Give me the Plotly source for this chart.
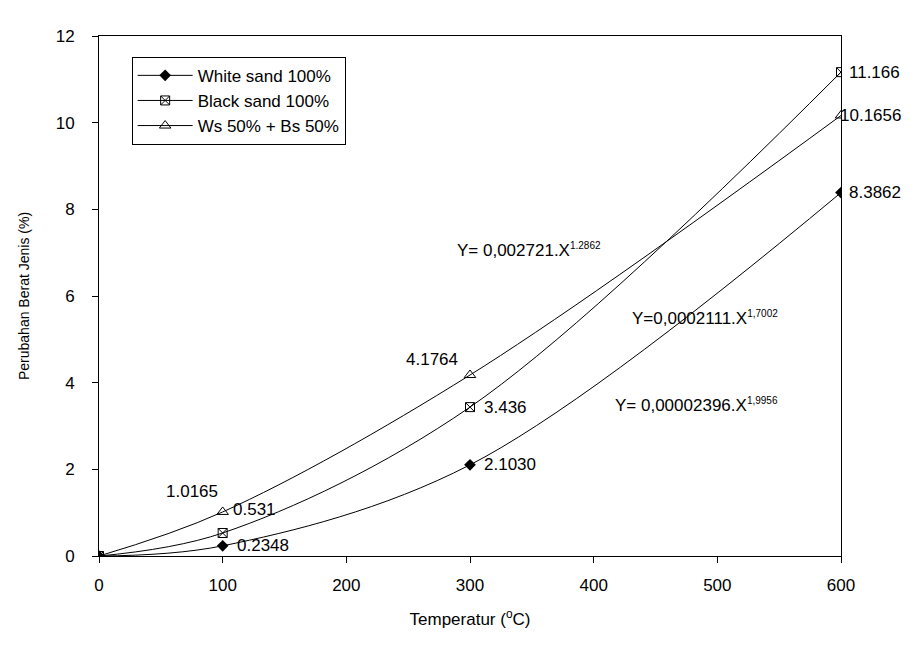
import plotly.graph_objects as go

temperature = [0, 100, 300, 600]
white_sand = [0, 0.2348, 2.1030, 8.3862]
black_sand = [0, 0.531, 3.436, 11.166]
mix_ws_bs = [0, 1.0165, 4.1764, 10.1656]

names = ["White sand 100%", "Black sand 100%", "Ws 50% + Bs 50%"]
x_ticks = [0, 100, 200, 300, 400, 500, 600]
y_ticks = [0, 2, 4, 6, 8, 10, 12]

FONT = "Liberation Sans, Arial, sans-serif"

fig = go.Figure()
fig.add_trace(go.Scatter(
    x=temperature, y=white_sand, name=names[0], mode="lines+markers",
    line=dict(color="black", width=1, shape="spline"),
    marker=dict(symbol="diamond", size=9, color="black")))
fig.add_trace(go.Scatter(
    x=temperature, y=black_sand, name=names[1], mode="lines+markers",
    line=dict(color="black", width=1, shape="spline"),
    marker=dict(symbol="square-x-open", size=9, color="black", line=dict(width=1))))
fig.add_trace(go.Scatter(
    x=temperature, y=mix_ws_bs, name=names[2], mode="lines+markers",
    line=dict(color="black", width=1, shape="spline"),
    marker=dict(symbol="triangle-up-open", size=10, color="black", line=dict(width=1))))

def sup(t):
    return "<sup><span style='font-size:10px'>" + t + "</span></sup>"

lab = dict(font=dict(family=FONT, size=17, color="black"), showarrow=False)
ann = [
    dict(x=600, y=black_sand[3], text="11.166", xanchor="left", xshift=6),
    dict(x=600, y=mix_ws_bs[3], text="10.1656", xanchor="left", xshift=-3),
    dict(x=600, y=white_sand[3], text="8.3862", xanchor="left", xshift=6),
    dict(x=300, y=mix_ws_bs[2], text="4.1764", xanchor="right", xshift=-10, yshift=16),
    dict(x=300, y=black_sand[2], text="3.436", xanchor="left", xshift=12),
    dict(x=300, y=white_sand[2], text="2.1030", xanchor="left", xshift=12),
    dict(x=100, y=mix_ws_bs[1], text="1.0165", xanchor="right", xshift=-3, yshift=20),
    dict(x=100, y=mix_ws_bs[1], text="0.531", xanchor="left", xshift=8, yshift=2),
    dict(x=100, y=white_sand[1], text="0.2348", xanchor="left", xshift=12),
    dict(x=288, y=7.06, text="Y= 0,002721.X" + sup("1.2862"), xanchor="left"),
    dict(x=429, y=5.49, text="Y=0,0002111.X" + sup("1,7002"), xanchor="left"),
    dict(x=416, y=3.48, text="Y= 0,00002396.X" + sup("1,9956"), xanchor="left"),
]
for a in ann:
    fig.add_annotation(**lab, **a)

axis_common = dict(showline=True, linecolor="black", linewidth=1, mirror=True,
                   showgrid=False, zeroline=False, ticks="outside", ticklen=6,
                   tickcolor="black", tickfont=dict(family=FONT, size=17, color="black"))

fig.update_layout(
    width=923, height=653,
    margin=dict(l=99, r=82, t=36, b=97),
    paper_bgcolor="white", plot_bgcolor="white",
    font=dict(family=FONT, color="black"),
    showlegend=True,
    legend=dict(x=0.044, y=0.96, xanchor="left", yanchor="top",
                bordercolor="black", borderwidth=1, bgcolor="white",
                font=dict(family=FONT, size=17, color="black"),
                itemwidth=55, tracegroupgap=0),
    xaxis=dict(range=[0, 600], tickvals=x_ticks, ticklabelstandoff=8,
               title=dict(text="Temperatur (<sup>o</sup>C)", font=dict(family=FONT, size=17), standoff=18),
               **axis_common),
    yaxis=dict(range=[0, 12], tickvals=y_ticks, ticklabelstandoff=14,
               title=dict(text="Perubahan Berat Jenis (%)", font=dict(family=FONT, size=14), standoff=22),
               **axis_common),
)

fig.write_html("out.html")
